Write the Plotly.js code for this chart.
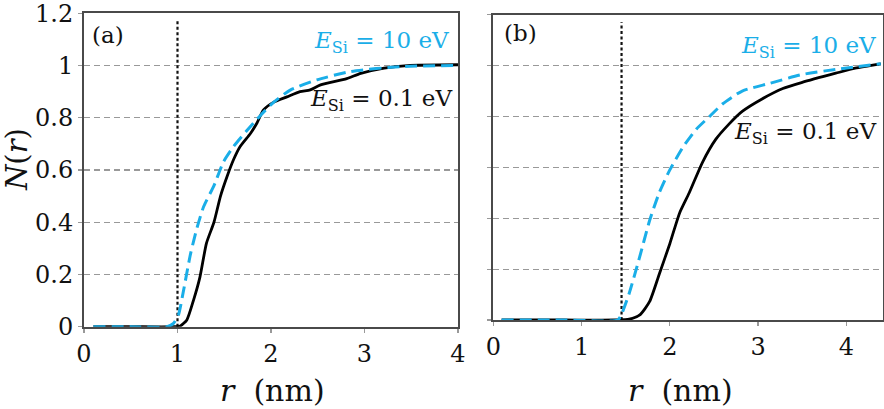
<!DOCTYPE html>
<html><head><meta charset="utf-8">
<script src="https://cdn.plot.ly/plotly-3.0.1.min.js"></script>
<style>html,body{margin:0;padding:0;background:#fff}#plot{width:884px;height:409px}</style>
</head><body><div id="plot"></div>
<script>
// Panel (a)
const aLowX = [0.1, 0.5, 0.957, 1.03, 1.1, 1.17, 1.24, 1.31, 1.39, 1.46, 1.53, 1.6, 1.67, 1.78, 1.85, 1.92, 2.03, 2.17, 2.31, 2.42, 2.53, 2.81, 2.96, 3.21, 3.46, 4.0];
const aLowY = [0, 0, 0, 0.003, 0.026, 0.10, 0.19, 0.32, 0.40, 0.50, 0.575, 0.64, 0.69, 0.74, 0.78, 0.83, 0.86, 0.88, 0.90, 0.907, 0.926, 0.95, 0.97, 0.99, 1.0, 1.003];
const aHighX = [0.1, 0.5, 0.886, 0.957, 1.01, 1.06, 1.14, 1.21, 1.28, 1.39, 1.49, 1.6, 1.74, 1.89, 2.03, 2.21, 2.49, 2.85, 3.39, 4.0];
const aHighY = [0, 0, 0, 0.013, 0.045, 0.13, 0.28, 0.38, 0.46, 0.54, 0.63, 0.69, 0.75, 0.81, 0.86, 0.907, 0.945, 0.977, 0.996, 1.0];
const aCutX = [1.0, 1.0];
const cutY = [0, 1.17];
// Panel (b)
const bLowX = [0.094, 0.8, 1.39, 1.54, 1.66, 1.77, 1.88, 2.0, 2.11, 2.22, 2.37, 2.52, 2.67, 2.82, 3.05, 3.28, 3.5, 3.88, 4.1, 4.39];
const bLowY = [0, 0, 0, 0.003, 0.02, 0.072, 0.18, 0.30, 0.42, 0.50, 0.62, 0.71, 0.77, 0.82, 0.87, 0.91, 0.934, 0.97, 0.99, 1.007];
const bHighX = [0.094, 0.8, 1.41, 1.45, 1.54, 1.66, 1.77, 1.88, 2.0, 2.15, 2.3, 2.45, 2.6, 2.82, 3.13, 3.5, 3.88, 4.39];
const bHighY = [0, 0, 0, 0.02, 0.105, 0.25, 0.39, 0.50, 0.59, 0.68, 0.75, 0.80, 0.85, 0.90, 0.93, 0.965, 0.985, 1.007];
const bCutX = [1.453, 1.453];
const yTickVals = [0, 0.2, 0.4, 0.6, 0.8, 1, 1.2];
const yTickText = ['0', '0.2', '0.4', '0.6', '0.8', '1', '1.2'];
const xTickVals = [0, 1, 2, 3, 4];
const labelHigh = '<i>E</i><sub>Si</sub> = 10 eV';
const labelLow = '<i>E</i><sub>Si</sub> = 0.1 eV';

const blue = '#1aaee8';
const FONT = 'DejaVu Serif';

function tr(x, y, ax, color, dash, w) {
  return {x: x, y: y, xaxis: ax[0], yaxis: ax[1], mode: 'lines', type: 'scatter',
    line: {color: color, dash: dash, width: w, shape: 'spline', smoothing: 0.6}, hoverinfo: 'skip'};
}
const A = ['x', 'y'], B = ['x2', 'y2'];
const data = [
  tr(aCutX, cutY, A, '#111', '3px,2.5px', 2.2),
  tr(aLowX, aLowY, A, '#000', 'solid', 2.8),
  tr(aHighX, aHighY, A, blue, '12px,6px', 3),
  tr(bCutX, cutY, B, '#111', '3px,2.5px', 2.2),
  tr(bLowX, bLowY, B, '#000', 'solid', 2.8),
  tr(bHighX, bHighY, B, blue, '12px,6px', 3)
];
const axBase = () => ({
  showline: true, mirror: true, linecolor: '#4a4a4a', linewidth: 2,
  ticks: 'outside', ticklen: 4, tickwidth: 1.2, tickcolor: '#999',
  ticklabeloverflow: 'allow',
  zeroline: false, tickfont: {family: FONT, size: 24, color: '#111'}
});
const af = (s, c) => ({family: FONT, size: s, color: c || '#111'});
const layout = {
  width: 884, height: 409, margin: {l: 0, r: 0, t: 0, b: 0},
  paper_bgcolor: '#fff', plot_bgcolor: '#fff', showlegend: false,
  font: {family: FONT, color: '#111'},
  xaxis: Object.assign(axBase(), {domain: [84/884, 458/884], range: [0, 4], tickvals: xTickVals, showgrid: false, anchor: 'y'}),
  yaxis: Object.assign(axBase(), {domain: [1-326.7/409, 1-13.3/409], range: [0, 1.2], tickvals: yTickVals, ticktext: yTickText,
    showgrid: true, gridcolor: '#999', griddash: '6px,4px', gridwidth: 1.2, anchor: 'x'}),
  xaxis2: Object.assign(axBase(), {domain: [493.3/884, 883/884], range: [0, 4.415], tickvals: xTickVals, showgrid: false, anchor: 'y2'}),
  yaxis2: Object.assign(axBase(), {domain: [1-320/409, 1-14.7/409], range: [0, 1.2], tickvals: yTickVals, showticklabels: false,
    showgrid: true, gridcolor: '#999', griddash: '6px,4px', gridwidth: 1.2, anchor: 'x2'}),
  annotations: [
    {xref: 'x', yref: 'y', x: 0.064, y: 1.117, text: '(a)', showarrow: false, xanchor: 'left', yanchor: 'middle', font: af(23)},
    {xref: 'x2', yref: 'y2', x: 0.095, y: 1.128, text: '(b)', showarrow: false, xanchor: 'left', yanchor: 'middle', font: af(23)},
    {xref: 'x', yref: 'y', x: 3.93, y: 1.09, text: labelHigh, showarrow: false, xanchor: 'right', yanchor: 'middle', font: af(23, blue)},
    {xref: 'x', yref: 'y', x: 3.96, y: 0.868, text: labelLow, showarrow: false, xanchor: 'right', yanchor: 'middle', font: af(23)},
    {xref: 'x2', yref: 'y2', x: 4.36, y: 1.074, text: labelHigh, showarrow: false, xanchor: 'right', yanchor: 'middle', font: af(23, blue)},
    {xref: 'x2', yref: 'y2', x: 4.36, y: 0.736, text: labelLow, showarrow: false, xanchor: 'right', yanchor: 'middle', font: af(23)},
    {xref: 'paper', yref: 'paper', x: 272/884, y: 1-390/409, text: '<i>r</i>&nbsp;&nbsp;(nm)', showarrow: false, xanchor: 'center', yanchor: 'middle', font: af(30)},
    {xref: 'paper', yref: 'paper', x: 680/884, y: 1-390/409, text: '<i>r</i>&nbsp;&nbsp;(nm)', showarrow: false, xanchor: 'center', yanchor: 'middle', font: af(30)},
    {xref: 'paper', yref: 'paper', x: 17/884, y: 1-160/409, text: '<i>N</i>(<i>r</i>)', showarrow: false, textangle: -90, xanchor: 'center', yanchor: 'middle', font: af(29)}
  ]
};
Plotly.newPlot('plot', data, layout, {staticPlot: true, displayModeBar: false});
</script></body></html>
